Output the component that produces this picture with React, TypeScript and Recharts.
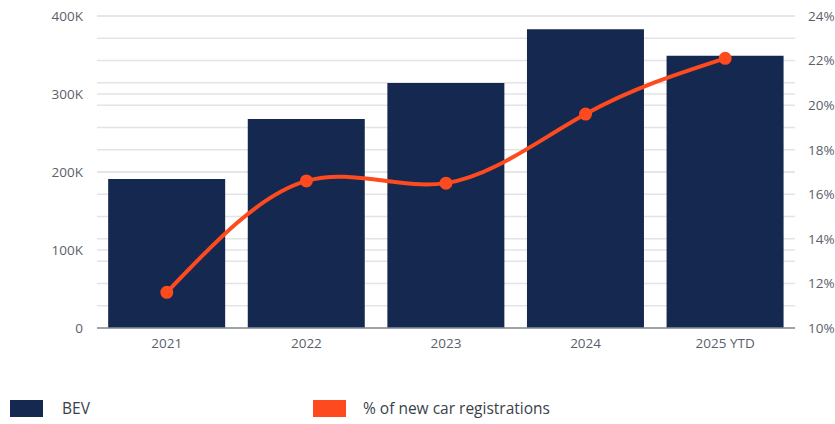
import React from 'react';
import { ComposedChart, Bar, Line, XAxis, YAxis, CartesianGrid } from 'recharts';

const years = ['2021', '2022', '2023', '2024', '2025 YTD'];
const bevSales = [191000, 268000, 314000, 383000, 349000];
const sharePct = [11.6, 16.6, 16.5, 19.6, 22.1];
const leftTicks = [0, 100000, 200000, 300000, 400000];
const rightTicks = [10, 11, 12, 13, 14, 15, 16, 17, 18, 19, 20, 21, 22, 23, 24];

const NAVY = '#15284f';
const ORANGE = '#fd4a1e';
const TEXT = '#5a5f6b';
const GRID = '#e4e4e4';
const FONT = '"Open Sans", "Noto Sans", sans-serif';

const data = years.map((y, i) => ({ year: y, bev: bevSales[i], pct: sharePct[i] }));

const kFmt = (v: number) => (v === 0 ? '0' : `${v / 1000}K`);
const pctFmt = (v: number) => (v % 2 === 0 ? `${v}%` : '');

const App: React.FC = () => {
    const tickStyle = { fill: TEXT, fontSize: 13.5, fontFamily: FONT };
    return (
        <div style={{ position: 'absolute', left: 0, top: 0, width: 835, height: 424, background: '#fff', fontFamily: FONT }}>
            <ComposedChart width={835} height={370} data={data} margin={{ top: 16, right: 0, bottom: 12, left: 0 }} barCategoryGap="8%">
                <CartesianGrid yAxisId="right" vertical={false} stroke={GRID} strokeWidth={1.5} />
                <CartesianGrid yAxisId="left" vertical={false} stroke={GRID} strokeWidth={1.5} />
                <XAxis dataKey="year" tickLine={false} axisLine={{ stroke: '#8a8d94', strokeWidth: 1.5 }} tick={tickStyle} tickMargin={4} height={30} />
                <YAxis yAxisId="left" domain={[0, 400000]} ticks={leftTicks} tickFormatter={kFmt} axisLine={false} tickLine={false} tick={tickStyle} width={97} tickMargin={8} />
                <YAxis yAxisId="right" orientation="right" domain={[10, 24]} ticks={rightTicks} interval={0} tickFormatter={pctFmt} axisLine={false} tickLine={false} tick={tickStyle} width={40} tickMargin={7} />
                <Bar yAxisId="left" dataKey="bev" fill={NAVY} isAnimationActive={false} />
                <Line yAxisId="right" dataKey="pct" type="natural" stroke={ORANGE} strokeWidth={4} dot={{ r: 4.5, fill: ORANGE, stroke: ORANGE }} isAnimationActive={false} />
            </ComposedChart>
            <div style={{ position: 'absolute', top: 397, left: 10, display: 'flex', alignItems: 'center', fontSize: 15.5, color: '#3a3f4b' }}>
                <span style={{ display: 'inline-block', width: 33, height: 17, background: NAVY, marginRight: 19 }} />
                <span>BEV</span>
            </div>
            <div style={{ position: 'absolute', top: 397, left: 313, display: 'flex', alignItems: 'center', fontSize: 15.5, color: '#3a3f4b' }}>
                <span style={{ display: 'inline-block', width: 33, height: 17, background: ORANGE, marginRight: 17 }} />
                <span>% of new car registrations</span>
            </div>
        </div>
    );
};

export default App;
